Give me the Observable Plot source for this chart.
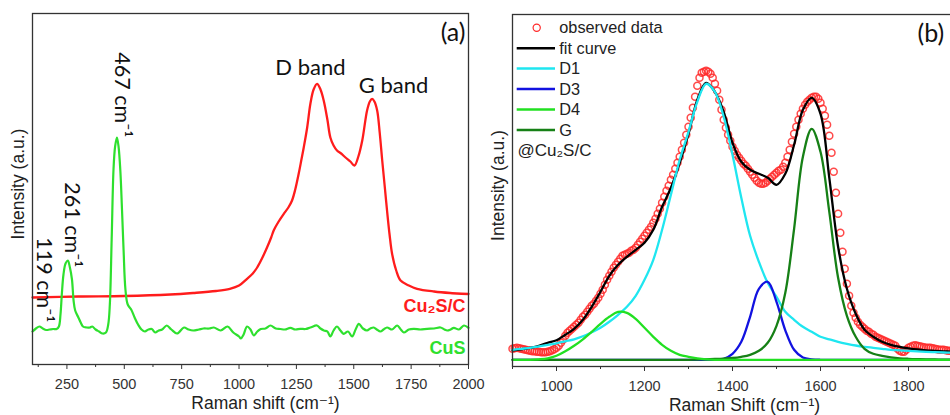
<!DOCTYPE html>
<html>
<head>
<meta charset="utf-8">
<script src="https://cdn.jsdelivr.net/npm/d3@7"></script>
<script src="https://cdn.jsdelivr.net/npm/@observablehq/plot@0.6"></script>
<style>
html,body{margin:0;padding:0;background:#fff;overflow:hidden;width:950px;height:415px;}
#wrap{position:relative;width:950px;height:415px;overflow:hidden;background:#fff;}
#a,#b{position:absolute;top:0;}
#a{left:0;}
#b{left:470px;}
</style>
</head>
<body>
<div id="wrap"><div id="a"></div><div id="b"></div></div>
<script>
// ---------- Panel (a): Raman spectra ----------
const cusShift = [100,115,130,145,160,175,190,205,215,222,228,235,244,254,263,272,279,286,300,310,320,335,350,360,375,390,405,420,430,437,445,453,460,468,475,483,490,497,505,515,530,545,560,575,590,605,620,635,650,665,685,705,730,760,780,800,825,845,870,890,920,950,975,1000,1008,1020,1035,1050,1064,1080,1095,1115,1137,1160,1180,1200,1224,1245,1267,1290,1311,1340,1355,1370,1385,1398,1412,1427,1442,1456,1475,1493,1508,1522,1540,1558,1572,1587,1600,1616,1630,1645,1667,1689,1705,1718,1740,1762,1790,1820,1850,1878,1895,1907,1922,1936,1958,1980,2000];
const cusIntensity = [33,36,38,36,34.5,35,35.5,35.5,38,50,71,90,101,104,97,85,64,54,47,42,38,37,37,38,35,33,31,32,40,60,125,195,218,227,218,193,155,114,75,60,55,47,40,35,33,35,35.5,32,34,35,39,35,31,37,35,34,35,36,36,37,34,38,32,28,26,30,38,35,29,33,35.5,36,39,36,35.5,35,36.7,35,35.7,35.5,37,39,36,34,33,28,34,38,34,30.7,33,28,35,40.7,36,34,36,37,35,33,35,37,35,39,35,32,35,35.7,35,35.7,36,37,35,34,35,36.7,35,39,36.7];

const cu2scShift = [100,300,500,700,800,900,960,1000,1035,1060,1079,1100,1122,1140,1151,1170,1195,1215,1231,1245,1260,1272,1282,1297,1311,1325,1340,1355,1369,1385,1398,1412,1427,1445,1464,1485,1503,1520,1537,1558,1570,1580,1590,1602,1613,1624,1635,1645,1656,1667,1685,1704,1740,1776,1850,1920,2000];
const cu2scIntensity = [67,68,68.5,70,71.5,73.5,75.7,79,85.7,91,97,106,117,127,134,142,150.7,157,164,175,190.7,205,217,237,260.7,275,280.7,275,264,245,227,219,214,211,207,203,199,208,224,254,263,265.7,263,254,232,204,178,154,130,110.7,94,84,79,75.7,73,71.5,70.5];

const majorTicksA = [250,500,750,1000,1250,1500,1750,2000];
const minorTicksA = [125,375,625,875,1125,1375,1625,1875];
const peakLabelsA = ["119 cm\u207B\u00B9","261 cm\u207B\u00B9","467 cm\u207B\u00B9"];
const bandLabelsA = ["D band","G band"];
const seriesNamesA = ["Cu\u2082S/C","CuS"];

// ---------- Panel (b): peak fit ----------
const obsShift = [900,905,910,915,920,925,930,935,940,945,950,955,960,965,970,975,980,985,990,995,1000,
1005,1010,1015,1020,1025,1030,1035,1040,1045,1050,1055,1060,1065,1070,1075,1080,1085,1090,1095,1100,
1105,1110,1115,1120,1125,1130,1135,1140,1145,1150,1155,1160,1165,1170,1175,1180,1185,1190,1195,1200,
1205,1210,1215,1220,1225,1230,1235,1240,1245,1250,1255,1260,1265,1270,1275,1280,1285,1290,1295,1300,
1305,1310,1315,1320,1325,1330,1335,1340,1345,1350,1355,1360,1365,1370,1375,1380,1385,1390,1395,1400,
1405,1410,1415,1420,1425,1430,1435,1440,1445,1450,1455,1460,1465,1470,1475,1480,1485,1490,1495,1500,
1505,1510,1515,1520,1525,1530,1535,1540,1545,1550,1555,1560,1565,1570,1575,1580,1585,1590,1595,1600,
1605,1610,1615,1620,1625,1630,1635,1640,1645,1650,1655,1660,1665,1670,1675,1680,1685,1690,1695,1700,
1705,1710,1715,1720,1725,1730,1735,1740,1745,1750,1755,1760,1765,1770,1775,1780,1785,1790,1795,1800,
1805,1810,1815,1820,1825,1830,1835,1840,1845,1850,1855,1860,1865,1870,1875,1880,1885,1890,1895,1900];
const obsIntensity = [11,11.5,12,11.5,11,10.5,10,9.5,9,8.5,8.5,8,8,7.5,7.5,7.5,8,8.5,9.5,10.5,12,
14,17,20,24,27,29,31,33,35,37,40,43,45,48,51,54,56,59,62,66,
70,75,80,84,88,92,95,98,101,104,105,106,107,109,110,112,115,118,121,124,
127,130,133,137,141,146,151,157,163,169,174,180,185,191,197,203,210,217,225,233,
242,252,263,274,282,287,288,289,288,286,282,276,269,260,250,240,232,225,219,213,
209,205,202,199,196,194,191,188,185,182,179,177,176,176,177,179,181,183,185,187,
189,190,193,197,203,210,218,226,233,240,246,251,255,258,260,262,263,263,261,257,
251,244,235,224,207,188,167,146,127,108,91,76,64,54,47,42,38,35,33,31,
29,28,26,25,23,22,21,20,19,18,17,16,15,14,11,9,8,8,10,12,
13,14,14.5,14,13.5,13,12.5,12,12,12,11.5,11,10.5,10,10,10,9.5,9,9,9];

const fitShift = [900,920,940,960,980,1000,1020,1040,1060,1080,1100,1120,1140,1160,1180,1200,1220,1240,1260,1280,1300,1320,1340,1360,1380,1400,1420,1440,1460,1480,1500,1520,1540,1560,1580,1600,1620,1640,1660,1680,1700,1720,1740,1760,1780,1800,1820,1840,1860,1880,1900];
const fitCurve = [9.5,10.5,12,14,17,19.5,25,31,40,53,68,84,95,103,110,117,130,153,172,197,226,260,277,268,248,217,198,190,186,182,175,186,215,250,262,246,182,113,71,46,30,23,18,15,13,11.5,10.3,9.5,9,8.5,8];
const bandD1 = [10,11,12,13.5,15,16.5,18.5,20.5,23.5,27.5,32,38,45,53,64,80,100,130,165,200,228,258,276,268,243,205,162,124,98,77,63,48,40,33,28,23,20.5,18,16,14.3,13,12,11,10,9.5,9,8.5,8,7.6,7.3,7];
const bandD3 = [0,0,0,0,0,0,0,0,0,0,0,0,0,0,0,0,0,0,0,0,0,0,0,0,1,6,18,43,71,78,58,29.5,10,2.3,0.5,0,0,0,0,0,0,0,0,0,0,0,0,0,0,0,0];
const bandD4 = [0,0,0,0.5,1.5,4,8.5,14,20.5,28,36,43,48,47,41,32,23,15,9,5,3,1.5,0.5,0,0,0,0,0,0,0,0,0,0,0,0,0,0,0,0,0,0,0,0,0,0,0,0,0,0,0,0];
const bandG = [0,0,0,0,0,0,0,0,0,0,0,0,0,0,0,0,0,0,0,0,0,0.3,0.5,0.8,1.2,1.8,3,5,9,17,34,67,131,203,231,208,148,82,44,23,11,6,4,2.5,1.5,1,0.7,0.5,0.3,0.2,0.1];

const majorTicksB = [1000,1200,1400,1600,1800];
const minorTicksB = [900,1100,1300,1500,1700,1900];
const legendLabelsB = ["observed data","fit curve","D1","D3","D4","G"];
const sampleNameB = "@Cu\u2082S/C";
const panelTags = ["(a)","(b)"];
const axisTitles = ["Raman shift (cm\u207B\u00B9)","Raman Shift (cm\u207B\u00B9)","Intensity (a.u.)"];

// ---------- styling ----------
const SANS = "'Liberation Sans', Arial, 'DejaVu Sans', sans-serif";
const CAL = "Lato, 'Open Sans', sans-serif";
const RED = "#ff1c1c", GREEN = "#2ee02e";
const OBS = "#ff2a2a", CYAN = "#1fe6f0", BLUE = "#1212e0", D4C = "#22e022", GDARK = "#168016";
const AX = "#333";

const zip = (xs, ys) => xs.map((x, i) => ({x, y: ys[i]}));

const plotA = Plot.plot({
  width: 470, height: 415,
  marginLeft: 32, marginRight: 2, marginTop: 13, marginBottom: 51,
  style: {overflow: "visible", maxWidth: "none", fontFamily: SANS, background: "transparent"},
  x: {domain: [100, 2000]},
  y: {domain: [0, 351], axis: null},
  marks: [
    Plot.axisX({ticks: minorTicksA, tickSize: 3, tickFormat: () => "", color: AX, label: null}),
    Plot.axisX({ticks: majorTicksA, tickSize: 5, tickPadding: 9, fontSize: 14.5, color: AX, label: null, tickFormat: d => String(d)}),
    Plot.line(zip(cu2scShift, cu2scIntensity), {x: "x", y: "y", stroke: RED, strokeWidth: 2.3, curve: "catmull-rom"}),
    Plot.line(zip(cusShift, cusIntensity), {x: "x", y: "y", stroke: GREEN, strokeWidth: 2.2, curve: "catmull-rom"}),
    Plot.frame({stroke: AX, strokeWidth: 1.3}),
    Plot.text([panelTags[0]], {text: d => d, frameAnchor: "top-right", dx: -3, dy: 19, textAnchor: "end", lineAnchor: "middle", fontSize: 25, fontFamily: CAL, fill: "#111"}),
    Plot.text([bandLabelsA[0]], {text: d => d, x: 1311, y: 297, lineAnchor: "middle", fontSize: 22, fontFamily: CAL, fill: "#111"}),
    Plot.text([bandLabelsA[1]], {text: d => d, x: 1673, y: 279, lineAnchor: "middle", fontSize: 22, fontFamily: CAL, fill: "#111"}),
    Plot.text([peakLabelsA[0]], {text: d => d, x: 148, y: 42, rotate: 90, textAnchor: "end", lineAnchor: "middle", fontSize: 21.5, fontFamily: CAL, fill: "#111"}),
    Plot.text([peakLabelsA[1]], {text: d => d, x: 272, y: 97, rotate: 90, textAnchor: "end", lineAnchor: "middle", fontSize: 21.5, fontFamily: CAL, fill: "#111"}),
    Plot.text([peakLabelsA[2]], {text: d => d, x: 490, y: 227, rotate: 90, textAnchor: "end", lineAnchor: "middle", fontSize: 21.5, fontFamily: CAL, fill: "#111"}),
    Plot.text([seriesNamesA[0]], {text: d => d, x: 2000, y: 58, dx: -3, textAnchor: "end", lineAnchor: "middle", fontSize: 18, fontWeight: "bold", fill: RED}),
    Plot.text([seriesNamesA[1]], {text: d => d, x: 2000, y: 16, dx: -3, textAnchor: "end", lineAnchor: "middle", fontSize: 18, fontWeight: "bold", fill: GREEN}),
    Plot.text([axisTitles[2]], {text: d => d, frameAnchor: "left", dx: -14, dy: -5, rotate: -90, textAnchor: "middle", lineAnchor: "middle", fontSize: 17.5, fill: "#222"}),
    Plot.text([axisTitles[0]], {text: d => d, frameAnchor: "bottom", dx: 15, dy: 39, textAnchor: "middle", lineAnchor: "middle", fontSize: 17.5, fill: "#222"})
  ]
});
document.getElementById("a").appendChild(plotA);

const plotB = Plot.plot({
  width: 490, height: 415,
  marginLeft: 42, marginRight: 8, marginTop: 14, marginBottom: 49,
  style: {overflow: "visible", maxWidth: "none", fontFamily: SANS, background: "transparent"},
  x: {domain: [900, 1900]},
  y: {domain: [-6.7, 345.3], axis: null},
  marks: [
    Plot.axisX({ticks: minorTicksB, tickSize: 3, tickFormat: () => "", color: AX, label: null}),
    Plot.axisX({ticks: majorTicksB, tickSize: 5, tickPadding: 9, fontSize: 14.5, color: AX, label: null, tickFormat: d => String(d)}),
    Plot.dot(zip(obsShift, obsIntensity), {x: "x", y: "y", r: 3.5, stroke: OBS, strokeWidth: 1.5, fill: "none", strokeOpacity: 0.85}),
    Plot.line(zip(fitShift, fitCurve), {x: "x", y: "y", stroke: "#000", strokeWidth: 2.3, curve: "catmull-rom"}),
    Plot.line(zip(fitShift, bandD1), {x: "x", y: "y", stroke: CYAN, strokeWidth: 2.3, curve: "catmull-rom"}),
    Plot.line(zip(fitShift, bandD3), {x: "x", y: "y", stroke: BLUE, strokeWidth: 2.3, curve: "catmull-rom"}),
    Plot.line(zip(fitShift, bandG), {x: "x", y: "y", stroke: GDARK, strokeWidth: 2.3, curve: "catmull-rom"}),
    Plot.line(zip(fitShift, bandD4), {x: "x", y: "y", stroke: D4C, strokeWidth: 2.3, curve: "catmull-rom"}),
    Plot.frame({stroke: AX, strokeWidth: 1.3}),
    Plot.text([panelTags[1]], {text: d => d, frameAnchor: "top-left", dx: 405, dy: 19, textAnchor: "start", lineAnchor: "middle", fontSize: 25, fontFamily: CAL, fill: "#111"}),
    Plot.text([axisTitles[2]], {text: d => d, frameAnchor: "left", dx: -14, dy: -5, rotate: -90, textAnchor: "middle", lineAnchor: "middle", fontSize: 17.5, fill: "#222"}),
    Plot.text([axisTitles[1]], {text: d => d, frameAnchor: "bottom", dx: 12, dy: 39, textAnchor: "middle", lineAnchor: "middle", fontSize: 17.5, fill: "#222"})
  ]
});
document.getElementById("b").appendChild(plotB);

// legend for panel (b)
const legendColors = [OBS, "#000", CYAN, BLUE, D4C, GDARK];
const lg = d3.select(plotB).append("g")
  .attr("font-family", SANS).attr("font-size", 16.3).attr("fill", "#222").attr("text-anchor", "start");
const rowY = i => 27.7 + i * 20.45;
legendLabelsB.forEach((label, i) => {
  if (i === 0) {
    lg.append("circle").attr("cx", 66.7).attr("cy", rowY(i)).attr("r", 3.6)
      .attr("fill", "none").attr("stroke", OBS).attr("stroke-width", 1.2);
  } else {
    lg.append("line").attr("x1", 46.7).attr("x2", 85).attr("y1", rowY(i)).attr("y2", rowY(i))
      .attr("stroke", legendColors[i]).attr("stroke-width", 2.5);
  }
  lg.append("text").attr("x", 89.3).attr("y", rowY(i)).attr("dy", "0.35em").text(label);
});
lg.append("text").attr("x", 47.5).attr("y", rowY(6)).attr("dy", "0.35em").attr("font-size", 17).text(sampleNameB);
</script>
</body>
</html>
